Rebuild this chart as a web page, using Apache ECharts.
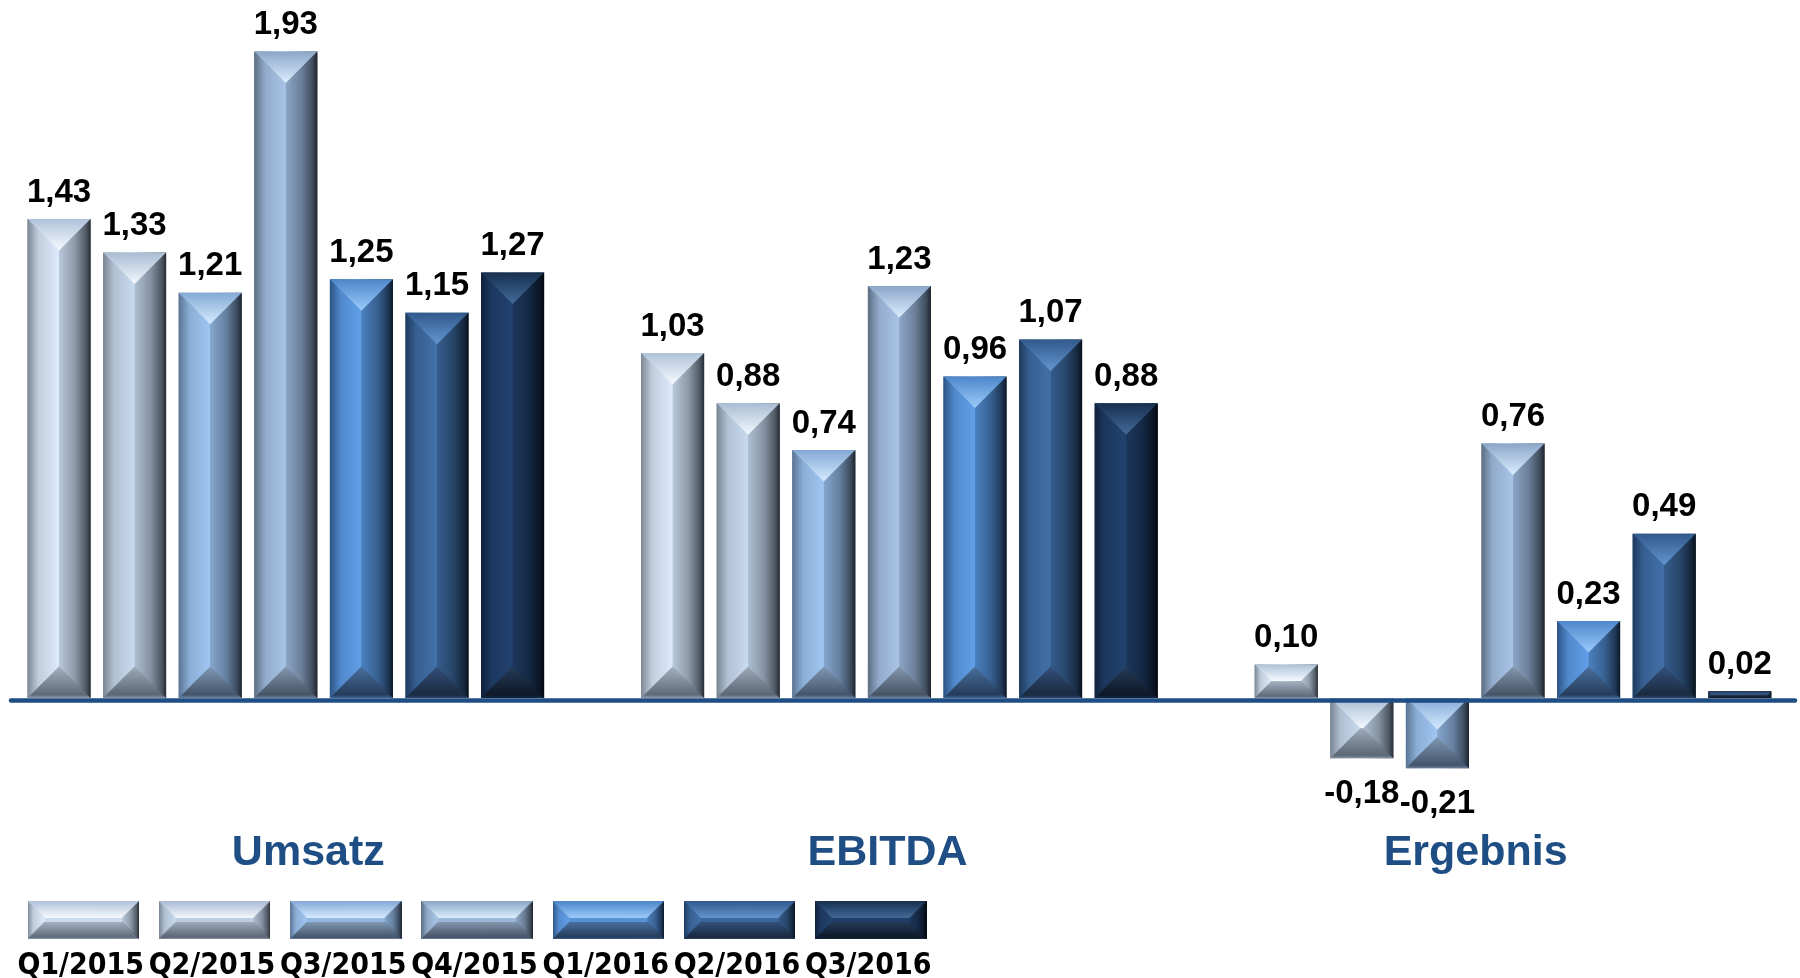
<!DOCTYPE html>
<html><head><meta charset="utf-8">
<script src="https://cdn.jsdelivr.net/npm/echarts@6/dist/echarts.min.js"></script>
<style>html,body{margin:0;padding:0;background:#fff}#c{width:1800px;height:978px}</style>
</head><body><div id="c"></div>
<script>
// ---------- data ----------
const categories = ['Umsatz', 'EBITDA', 'Ergebnis'];
const seriesNames = ['Q1/2015', 'Q2/2015', 'Q3/2015', 'Q4/2015', 'Q1/2016', 'Q2/2016', 'Q3/2016'];
const q1_2015 = [1.43, 1.03, 0.10];
const q2_2015 = [1.33, 0.88, -0.18];
const q3_2015 = [1.21, 0.74, -0.21];
const q4_2015 = [1.93, 1.23, 0.76];
const q1_2016 = [1.25, 0.96, 0.23];
const q2_2016 = [1.15, 1.07, 0.49];
const q3_2016 = [1.27, 0.88, 0.02];
const seriesValues = [q1_2015, q2_2015, q3_2015, q4_2015, q1_2016, q2_2016, q3_2016];

// ---------- style ----------
const palette = [
  {edgeL:'#7D8896', center:'#DDEBFC', ridgeR:'#B9C9DB', edgeR:'#262C34', topEdge:'#AFC2DA', topApex:'#F7FBFF', botApex:'#A3B1C1', botEdge:'#5E6A78'},
  {edgeL:'#7A8592', center:'#C9DBF0', ridgeR:'#AEBFD3', edgeR:'#262C34', topEdge:'#A9BCD3', topApex:'#F2F8FF', botApex:'#9DAABA', botEdge:'#5C6775'},
  {edgeL:'#5A7594', center:'#A0C6F2', ridgeR:'#86A7CE', edgeR:'#1C2530', topEdge:'#84A9D6', topApex:'#D6EBFF', botApex:'#8098B4', botEdge:'#44556A'},
  {edgeL:'#5C6E85', center:'#A9C5E7', ridgeR:'#8CA6C6', edgeR:'#1E252E', topEdge:'#8AA6C8', topApex:'#DCEEFF', botApex:'#8497AE', botEdge:'#465466'},
  {edgeL:'#2C5485', center:'#61A0EA', ridgeR:'#4B80C0', edgeR:'#0C1828', topEdge:'#4E86CA', topApex:'#9ACBFA', botApex:'#4A6F9C', botEdge:'#253D5C'},
  {edgeL:'#1D3A5E', center:'#4270A8', ridgeR:'#355C8C', edgeR:'#08111C', topEdge:'#31598C', topApex:'#6396D0', botApex:'#34507A', botEdge:'#1A2A40'},
  {edgeL:'#10223C', center:'#22426F', ridgeR:'#1C375C', edgeR:'#03080F', topEdge:'#17304F', topApex:'#446A9A', botApex:'#253B58', botEdge:'#0E1828'}
];
const BLUE = '#1F4E85';
const BAR_W = 63 / 613.6;      // bar width as fraction of category band
const BAR_PITCH = 75.6 / 613.6; // distance between bar centres as fraction of band
const LABEL_FONT = 'bold 33px "Liberation Sans", Arial, sans-serif';

function hex2rgb(h){h=h.replace('#','');return [0,2,4].map(i=>parseInt(h.substr(i,2),16));}
function mix(a,b,t){const A=hex2rgb(a),B=hex2rgb(b);return 'rgb('+A.map((v,i)=>Math.round(v+(B[i]-v)*t)).join(',')+')';}

function bevelFaces(x0,y0,x1,y1,d,c){
  const f=[];
  f.push({pts:[[x0,y0],[x1,y0],[x1,y1],[x0,y1]],dir:'h',stops:[[0,c.edgeL],[0.5,c.center],[0.5,c.ridgeR],[1,c.edgeR]]});
  f.push({pts:[[x0,y0],[x0+d,y0+d],[x0+d,y1-d],[x0,y1]],dir:'h',stops:[[0,c.edgeL],[0.35,mix(c.edgeL,c.center,0.7)],[1,c.center]]});
  f.push({pts:[[x1-d,y0+d],[x1,y0],[x1,y1],[x1-d,y1-d]],dir:'h',stops:[[0,c.ridgeR],[0.5,mix(c.ridgeR,c.edgeR,0.3)],[0.85,mix(c.ridgeR,c.edgeR,0.7)],[1,c.edgeR]]});
  if (x1-x0-2*d>0.5 && y1-y0-2*d>0.5) {
    f.push({pts:[[x0+d,y0+d],[x1-d,y0+d],[x1-d,y1-d],[x0+d,y1-d]],dir:'v',stops:[[0,mix(c.center,c.ridgeR,0.5)],[1,mix(c.center,c.ridgeR,0.5)]]});
  }
  f.push({pts:[[x0,y0],[x1,y0],[x1-d,y0+d],[x0+d,y0+d]],dir:'v',stops:[[0,c.topEdge],[1,c.topApex]]});
  f.push({pts:[[x0+d,y1-d],[x1-d,y1-d],[x1,y1],[x0,y1]],dir:'v',stops:[[0,c.botApex],[0.9,c.botEdge],[1,mix(c.botEdge,c.center,0.4)]]});
  return f;
}
function zrGrad(face){
  return {type:'linear',x:0,y:0,x2:face.dir==='h'?1:0,y2:face.dir==='h'?0:1,global:false,
    colorStops:face.stops.map(s=>({offset:s[0],color:s[1]}))};
}

function fmt(v){return v.toFixed(2).replace('.', ',');}

function makeRender(si){
  return function(params, api){
    const ci = api.value(0), v = api.value(1);
    const p0 = api.coord([ci, 0]);
    const p1 = api.coord([ci, v]);
    const band = api.size([1, 0])[0];
    const w = band * BAR_W, pitch = band * BAR_PITCH;
    const cx = p0[0] + (si - (seriesNames.length - 1) / 2) * pitch;
    const x0 = cx - w/2, x1 = cx + w/2;
    const y0 = Math.min(p0[1], p1[1]), y1 = Math.max(p0[1], p1[1]);
    const d = Math.min(w/2, (y1-y0)/2);
    const children = bevelFaces(x0,y0,x1,y1,d,palette[si]).map(face=>({
      type:'polygon', shape:{points:face.pts}, style:{fill:zrGrad(face), stroke:null}
    }));
    children.push({
      type:'text', z2:10,
      style:{x:cx, y: v>=0 ? y0-10 : y1+19, text: fmt(v), align:'center',
        verticalAlign: v>=0 ? 'bottom' : 'top', font: LABEL_FONT, fill:'#000'}
    });
    return {type:'group', children};
  };
}

// legend icons: bevelled swatches drawn on a small canvas
function iconURL(si){
  const W=112,H=38, cv=document.createElement('canvas'); cv.width=W; cv.height=H;
  const ctx=cv.getContext('2d');
  bevelFaces(0,0,W,H,Math.min(17,H/2),palette[si]).forEach(face=>{
    const xs=face.pts.map(p=>p[0]), ys=face.pts.map(p=>p[1]);
    const mnx=Math.min(...xs),mxx=Math.max(...xs),mny=Math.min(...ys),mxy=Math.max(...ys);
    const g = face.dir==='h'? ctx.createLinearGradient(mnx,0,mxx,0) : ctx.createLinearGradient(0,mny,0,mxy);
    face.stops.forEach(s=>g.addColorStop(s[0],s[1]));
    ctx.fillStyle=g; ctx.beginPath();
    face.pts.forEach((p,i)=> i? ctx.lineTo(p[0],p[1]) : ctx.moveTo(p[0],p[1]));
    ctx.closePath(); ctx.fill();
  });
  return 'image://' + cv.toDataURL();
}

// legend text font
function hasFont(name){
  const c=document.createElement('canvas').getContext('2d');
  c.font='bold 40px monospace'; const a=c.measureText('Q1/2015 abc').width;
  c.font='bold 40px "'+name+'", monospace'; const b=c.measureText('Q1/2015 abc').width;
  return Math.abs(a-b)>0.5;
}
let legFamily, legSize;
if (hasFont('Liberation Sans Narrow')) { legFamily='Liberation Sans Narrow'; legSize=37; }
else if (hasFont('DejaVu Sans Condensed')) { legFamily='DejaVu Sans Condensed'; legSize=30; }
else { legFamily='Liberation Sans'; legSize=30; }
const mctx=document.createElement('canvas').getContext('2d');
mctx.font='bold '+legSize+'px "'+legFamily+'"';
const legTextW = mctx.measureText(seriesNames[0]).width;

const ICON_LEFT = 27.5, ICON_PITCH = 131.25, ICON_W = 111.5, ICON_H = 38;
const labelStyle = {color:BLUE, fontSize:43, fontWeight:'bold', fontFamily:'Liberation Sans, Arial, sans-serif'};

const chart = echarts.init(document.getElementById('c'), null, {renderer:'canvas'});
chart.setOption({
  animation:false,
  backgroundColor:'#fff',
  grid:[
    {left:285.8, right:287, top:28, bottom:162.75, containLabel:false, outerBoundsMode:'none'},
    {left:11, right:5, top:30.5, bottom:277.5, containLabel:false, outerBoundsMode:'none'}
  ],
  xAxis:[
    {gridIndex:0, type:'category', data:categories, boundaryGap:false, show:false},
    {gridIndex:1, type:'category', data:categories, boundaryGap:true, z:5,
     axisLine:{show:true, onZero:false, lineStyle:{color:BLUE, width:4.5}},
     axisTick:{show:false}, splitLine:{show:false},
     axisLabel:{margin:131, formatter:(v,i)=>'{l'+i+'|'+v+'}',
       rich:{l0:Object.assign({padding:[0,0,0,0]},labelStyle),
             l1:Object.assign({padding:[0,31,0,0]},labelStyle),
             l2:Object.assign({padding:[0,44,0,0]},labelStyle)}}}
  ],
  yAxis:[
    {gridIndex:0, type:'value', min:-0.35, max:2, show:false},
    {gridIndex:1, type:'value', min:0, max:2, show:false}
  ],
  legend:[
    {data:seriesNames.map((n,i)=>({name:n, icon:iconURL(i)})), selectedMode:false,
     left:ICON_LEFT, top:901, padding:0, itemWidth:ICON_W, itemHeight:ICON_H,
     itemGap: ICON_PITCH - ICON_W, formatter:()=>'' },
    {data:seriesNames.map(n=>({name:n, icon:'none'})), selectedMode:false,
     left: ICON_LEFT + ICON_W/2 - 2.5 - 5 - legTextW/2, top: 951, padding:0, itemWidth:0, itemHeight:legSize,
     itemGap: ICON_PITCH - legTextW - 5,
     textStyle:{fontFamily:legFamily, fontSize:legSize, fontWeight:'bold', color:'#000', padding:0}}
  ],
  series: seriesNames.map((n,si)=>({
    name:n, type:'custom', coordinateSystem:'cartesian2d', xAxisIndex:0, yAxisIndex:0,
    data: seriesValues[si].map((v,i)=>[i,v]), encode:{x:0,y:1},
    itemStyle:{color:palette[si].center},
    renderItem: makeRender(si)
  }))
});
</script></body></html>
